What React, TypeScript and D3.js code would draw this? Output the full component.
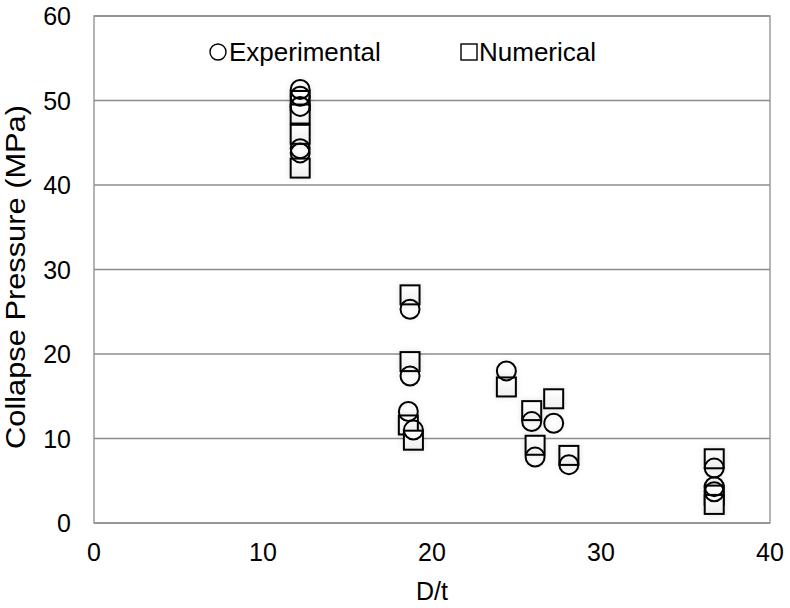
import React from "react";
import * as d3 from "d3";

const expX = [12.2, 12.2, 12.2, 12.2, 12.2, 18.7, 18.7, 18.6, 18.9, 24.4, 25.9, 27.2, 26.1, 28.1, 36.7, 36.7, 36.7];
const expY = [51.3, 50.5, 49.3, 44.3, 43.8, 25.3, 17.4, 13.2, 11.0, 18.0, 12.0, 11.8, 7.8, 6.9, 6.5, 4.3, 3.7];
const numX = [12.2, 12.2, 12.2, 12.2, 18.7, 18.7, 18.6, 18.9, 24.4, 25.9, 27.2, 26.1, 28.1, 36.7, 36.7, 36.7];
const numY = [50.0, 48.4, 46.0, 42.0, 27.0, 19.1, 11.6, 9.8, 16.1, 13.3, 14.7, 9.2, 8.0, 7.6, 3.3, 2.2];
const xTicks = [0, 10, 20, 30, 40];
const yTicks = [0, 10, 20, 30, 40, 50, 60];

export default function App() {
  const W = 790, H = 608;
  const left = 94, right = 770, top = 16, bottom = 523;
  const x = d3.scaleLinear().domain([0, 40]).range([left, right]);
  const y = d3.scaleLinear().domain([0, 60]).range([bottom, top]);
  const font = "'Liberation Sans', Arial, sans-serif";
  const s = 19;
  return (
    <svg width={W} height={H} style={{ position: "absolute", left: 0, top: 0 }} fontFamily={font}>
      <defs>
        <filter id="glow" x="-50%" y="-50%" width="200%" height="200%">
          <feGaussianBlur in="SourceAlpha" stdDeviation="3" />
          <feComponentTransfer><feFuncA type="linear" slope="0.12" /></feComponentTransfer>
          <feMerge><feMergeNode /><feMergeNode in="SourceGraphic" /></feMerge>
        </filter>
        <linearGradient id="sqg" x1="0" y1="0" x2="0" y2="1">
          <stop offset="0" stopColor="#ffffff" />
          <stop offset="1" stopColor="#eeeeee" />
        </linearGradient>
      </defs>
      <rect width={W} height={H} fill="#fff" />
      {yTicks.map((t) => (
        <line key={"g" + t} x1={left} x2={right} y1={y(t)} y2={y(t)} stroke="#8c8c8c" strokeWidth={1.3} />
      ))}
      <rect x={left} y={top} width={right - left} height={bottom - top} fill="none" stroke="#8c8c8c" strokeWidth={1.3} />
      {yTicks.map((t) => (
        <text key={"yl" + t} x={71} y={y(t)} dy="0.36em" textAnchor="end" fontSize={25} fill="#000">{t}</text>
      ))}
      {xTicks.map((t) => (
        <text key={"xl" + t} x={x(t)} y={561} textAnchor="middle" fontSize={25} fill="#000">{t}</text>
      ))}
      <text x={(left + right) / 2} y={600} textAnchor="middle" fontSize={25} fill="#000">D/t</text>
      <text transform={`translate(25,277) scale(1,1.1) rotate(-90)`} textAnchor="middle" fontSize={28} fill="#000">Collapse Pressure (MPa)</text>
      <g filter="url(#glow)">
        {numX.map((v, i) => (
          <rect key={"n" + i} x={x(v) - s / 2} y={y(numY[i]) - s / 2} width={s} height={s} fill="url(#sqg)" stroke="#000" strokeWidth={2} />
        ))}
        {expX.map((v, i) => (
          <circle key={"e" + i} cx={x(v)} cy={y(expY[i])} r={s / 2} fill="none" stroke="#000" strokeWidth={2} />
        ))}
      </g>
      <circle cx={218} cy={52} r={8} fill="none" stroke="#000" strokeWidth={1.4} />
      <text x={229} y={61} fontSize={26} fill="#000">Experimental</text>
      <rect x={461} y={44} width={16} height={16} fill="none" stroke="#000" strokeWidth={1.4} />
      <text x={479} y={61} fontSize={26} fill="#000">Numerical</text>
    </svg>
  );
}
